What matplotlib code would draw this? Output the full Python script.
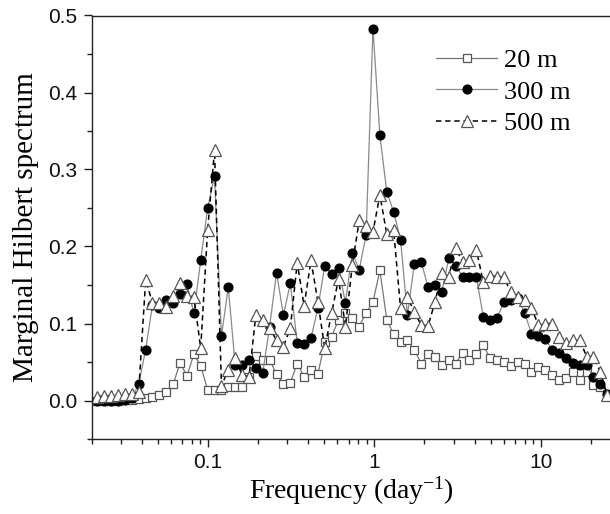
import numpy as np
import matplotlib
matplotlib.use('Agg')
import matplotlib.pyplot as plt
from matplotlib.ticker import MultipleLocator, LogLocator, FixedLocator, NullFormatter

plt.rcParams['mathtext.fontset'] = 'custom'
plt.rcParams['mathtext.rm'] = 'Liberation Serif'
plt.rcParams['mathtext.it'] = 'Liberation Serif:italic'

# frequency bins (day^-1)
freq = [0.0217, 0.0239, 0.0263, 0.0289, 0.0318, 0.0349, 0.0384, 0.0423, 0.0465, 0.0512,
        0.0563, 0.0619, 0.0681, 0.0749, 0.0824, 0.0906, 0.0997, 0.1097, 0.1207, 0.1327,
        0.146, 0.1606, 0.1767, 0.1943, 0.2138, 0.2351, 0.2587, 0.2845, 0.313, 0.3443,
        0.3787, 0.4166, 0.4582, 0.504, 0.5545, 0.6099, 0.6709, 0.738, 0.8118, 0.893,
        0.982, 1.08, 1.189, 1.307, 1.438, 1.582, 1.74, 1.914, 2.105, 2.316,
        2.547, 2.802, 3.083, 3.391, 3.73, 4.103, 4.513, 4.965, 5.461, 6.007,
        6.607, 7.268, 7.995, 8.795, 9.674, 10.64, 11.71, 12.88, 14.16, 15.58,
        17.14, 18.85, 20.74, 22.81, 25.09]

mhs_20 = [0.000, 0.000, 0.000, 0.000, 0.001, 0.001, 0.002, 0.003, 0.005, 0.007,
          0.011, 0.021, 0.049, 0.032, 0.060, 0.045, 0.014, 0.014, 0.014, 0.018,
          0.017, 0.017, 0.030, 0.058, 0.053, 0.053, 0.034, 0.022, 0.023, 0.048,
          0.031, 0.040, 0.034, 0.076, 0.083, 0.105, 0.114, 0.107, 0.096, 0.114,
          0.128, 0.169, 0.105, 0.086, 0.076, 0.078, 0.066, 0.048, 0.060, 0.057,
          0.046, 0.052, 0.048, 0.062, 0.053, 0.060, 0.072, 0.055, 0.053, 0.050,
          0.045, 0.050, 0.048, 0.037, 0.044, 0.040, 0.033, 0.027, 0.029, 0.037,
          0.027, 0.037, 0.020, 0.017, 0.009]

mhs_300 = [0.000, 0.000, -0.001, 0.000, 0.001, 0.003, 0.021, 0.066, 0.124, 0.120,
           0.130, 0.126, 0.138, 0.151, 0.113, 0.182, 0.250, 0.291, 0.084, 0.147,
           0.046, 0.046, 0.052, 0.042, 0.036, 0.096, 0.166, 0.111, 0.152, 0.075,
           0.073, 0.081, 0.120, 0.175, 0.164, 0.172, 0.127, 0.192, 0.170, 0.215,
           0.483, 0.345, 0.271, 0.245, 0.209, 0.111, 0.177, 0.180, 0.147, 0.150,
           0.141, 0.185, 0.175, 0.161, 0.161, 0.161, 0.109, 0.105, 0.107, 0.128,
           0.130, 0.133, 0.114, 0.087, 0.084, 0.080, 0.065, 0.062, 0.055, 0.049,
           0.046, 0.046, 0.030, 0.022, 0.009]

mhs_500 = [0.005, 0.006, 0.006, 0.007, 0.008, 0.008, 0.011, 0.156, 0.127, 0.127,
           0.122, 0.136, 0.153, 0.136, 0.135, 0.068, 0.221, 0.325, 0.019, 0.040,
           0.055, 0.033, 0.031, 0.111, 0.105, 0.094, 0.078, 0.070, 0.094, 0.179,
           0.123, 0.182, 0.128, 0.068, 0.114, 0.158, 0.096, 0.176, 0.234, 0.227,
           0.219, 0.267, 0.216, 0.221, 0.120, 0.134, 0.115, 0.098, 0.097, 0.128,
           0.165, 0.161, 0.198, 0.180, 0.183, 0.196, 0.154, 0.162, 0.161, 0.160,
           0.141, 0.135, 0.131, 0.120, 0.098, 0.100, 0.100, 0.083, 0.075, 0.079,
           0.079, 0.057, 0.057, 0.037, 0.007]

fig = plt.figure(figsize=(6.10, 5.14), dpi=100)
ax = fig.add_axes([91.5 / 610, 1 - 439 / 514, (612 - 91.5) / 610, (439 - 15.5) / 514])

ax.plot(freq, mhs_20, '-', color='#777777', lw=0.9, marker='s', ms=6,
        mfc='white', mec='#555555', mew=0.9, label='20 m')
ax.plot(freq, mhs_300, '-', color='#8a8a8a', lw=0.9, marker='o', ms=6.3,
        mfc='black', mec='black', label='300 m')
ax.plot(freq, mhs_500, '--', color='black', lw=1.1, dashes=(3.5, 2.5), marker='^', ms=8,
        mfc='white', mec='#555555', mew=0.9, label='500 m')

ax.set_xscale('log')
ax.set_xlim(0.02, 26.8)
ax.set_ylim(-0.05, 0.5)
ax.yaxis.set_major_locator(MultipleLocator(0.1))
ax.yaxis.set_minor_locator(MultipleLocator(0.05))
ax.xaxis.set_major_locator(FixedLocator([0.1, 1, 10]))
ax.xaxis.set_minor_locator(LogLocator(base=10, subs=np.arange(2, 10)))
ax.xaxis.set_minor_formatter(NullFormatter())
ax.set_xticklabels(['0.1', '1', '10'])
ax.set_yticklabels(['%.1f' % v for v in ax.get_yticks()])

ax.tick_params(which='both', direction='out', top=False, right=False,
               labelsize=15, width=1.0, color='#222222', labelcolor='#111111')
ax.tick_params(which='major', length=6, pad=4)
ax.tick_params(which='minor', length=3.5)
for lab in ax.get_xticklabels() + ax.get_yticklabels():
    lab.set_fontfamily('Liberation Sans')

ax.spines['right'].set_visible(False)
for s in ['left', 'bottom', 'top']:
    ax.spines[s].set_color('#222222')
    ax.spines[s].set_linewidth(1.0)

ax.set_xlabel('Frequency (day$^{-1}$)', fontsize=20, family='Liberation Serif', labelpad=2)
ax.set_ylabel('Marginal Hilbert spectrum', fontsize=21, family='Liberation Serif', labelpad=7)

leg = ax.legend(loc='upper left', bbox_to_anchor=(0.627, 0.965), frameon=False,
                prop={'family': 'Liberation Serif', 'size': 19},
                handlelength=2.3, handletextpad=0.25, labelspacing=0.3, borderpad=0.2)

fig.savefig('out.png', dpi=100)
